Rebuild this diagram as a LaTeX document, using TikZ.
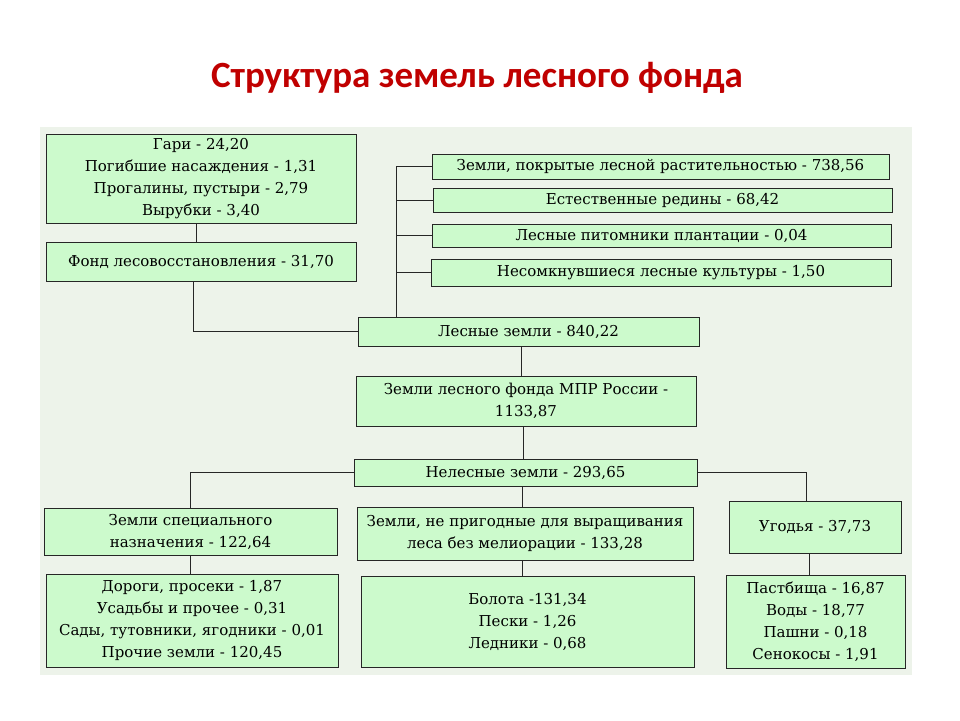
\documentclass[tikz,border=0pt]{standalone}
\usepackage{fontspec}
\setmainfont{DejaVu Serif}
\newfontfamily\titlefont{Carlito}
\usetikzlibrary{shadows}
\definecolor{lf_green}{RGB}{204, 250, 204}
\definecolor{lf_panel}{RGB}{237, 243, 234}
\definecolor{lf_red}{RGB}{192, 0, 0}
\tikzstyle{gb}=[rectangle,fill=lf_green,draw=black!85,line width=0.9pt,
  inner sep=2pt,align=center,font=\fontsize{15}{22}\selectfont,
  drop shadow={shadow xshift=1.2pt,shadow yshift=-1.2pt,fill=black!80,opacity=1}]
\tikzstyle{ln}=[draw=black!85,line width=0.8pt]
\tikzstyle{none}=[]

\begin{document}
\begin{tikzpicture}[x=1pt, y=-1pt]
		\useasboundingbox [fill=white] (0, 0) rectangle (960, 720);
		\fill [lf_panel] (40, 127) rectangle (912, 675);
		\node [style=none, text=lf_red, font=\titlefont\bfseries\fontsize{37}{40}\selectfont] (0) at (477, 78) {Структура земель лесного фонда};
		\node [style=gb, minimum width=310, minimum height=89] (1) at (201, 178.5) {Гари - 24,20\\Погибшие насаждения - 1,31\\Прогалины, пустыри - 2,79\\Вырубки - 3,40};
		\node [style=gb, minimum width=310, minimum height=39] (2) at (201, 261.5) {Фонд лесовосстановления - 31,70};
		\node [style=gb, minimum width=341, minimum height=29] (3) at (528.5, 331.5) {Лесные земли - 840,22};
		\node [style=gb, minimum width=457, minimum height=25] (4) at (660.5, 166.5) {Земли, покрытые лесной растительностью - 738,56};
		\node [style=gb, minimum width=459, minimum height=24] (5) at (662.5, 200) {Естественные редины - 68,42};
		\node [style=gb, minimum width=459, minimum height=23] (6) at (661.5, 235.5) {Лесные питомники плантации - 0,04};
		\node [style=gb, minimum width=460, minimum height=27] (7) at (661, 272.5) {Несомкнувшиеся лесные культуры - 1,50};
		\node [style=gb, minimum width=340, minimum height=50] (8) at (526, 401) {Земли лесного фонда МПР России -\\1133,87};
		\node [style=gb, minimum width=343, minimum height=27] (9) at (525.5, 472.5) {Нелесные земли - 293,65};
		\node [style=gb, minimum width=293, minimum height=47] (10) at (190.5, 531.5) {Земли специального\\назначения - 122,64};
		\node [style=gb, minimum width=336, minimum height=53] (11) at (525, 533.5) {Земли, не пригодные для выращивания\\леса без мелиорации - 133,28};
		\node [style=gb, minimum width=172, minimum height=52] (12) at (815, 527) {Угодья - 37,73};
		\node [style=gb, minimum width=292, minimum height=93] (13) at (192, 620.5) {Дороги, просеки - 1,87\\Усадьбы и прочее - 0,31\\Сады, тутовники, ягодники - 0,01\\Прочие земли - 120,45};
		\node [style=gb, minimum width=333, minimum height=91] (14) at (527.5, 621.5) {Болота -131,34\\Пески - 1,26\\Ледники - 0,68};
		\node [style=gb, minimum width=179, minimum height=93] (15) at (815.5, 621.5) {Пастбища - 16,87\\Воды - 18,77\\Пашни - 0,18\\Сенокосы - 1,91};
		\node [style=none] (16) at (396, 317) {};
		\draw [style=ln] ([xshift=-5pt]1.south) to ([xshift=-5pt]2.north);
		\draw [style=ln] ([xshift=-8pt]2.south) |- (3.west);
		\draw [style=ln] (16.center) |- (4.west);
		\draw [style=ln] (16.center) |- (5.west);
		\draw [style=ln] (16.center) |- (6.west);
		\draw [style=ln] (16.center) |- (7.west);
		\draw [style=ln] ([xshift=-5pt]8.north |- 3.south) to ([xshift=-5pt]8.north);
		\draw [style=ln] ([xshift=-3pt]8.south) to ([xshift=-3pt]8.south |- 9.north);
		\draw [style=ln] (9.west) -| (10.north);
		\draw [style=ln] (9.east) -| ([xshift=-9pt]12.north);
		\draw [style=ln] ([xshift=-3pt]11.north |- 9.south) to ([xshift=-3pt]11.north);
		\draw [style=ln] (10.south) to (10.south |- 13.north);
		\draw [style=ln] ([xshift=-3pt]11.south) to ([xshift=-3pt]11.south |- 14.north);
		\draw [style=ln] ([xshift=-6pt]12.south) to ([xshift=-6pt]12.south |- 15.north);
\end{tikzpicture}
\end{document}
